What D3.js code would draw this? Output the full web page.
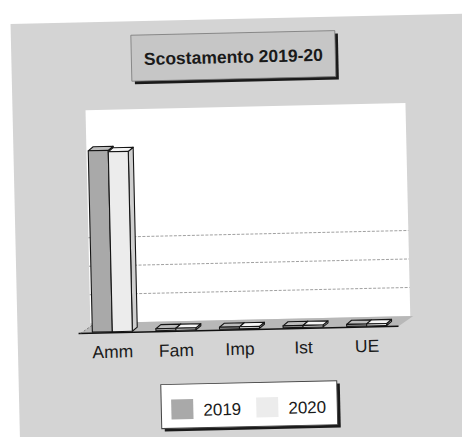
<!DOCTYPE html>
<html><head><meta charset="utf-8">
<script src="https://cdn.jsdelivr.net/npm/d3@7"></script>
<style>html,body{margin:0;padding:0;background:#fff;}svg{display:block;}</style>
</head><body>
<script>
const categories = ["Amm", "Fam", "Imp", "Ist", "UE"];
const seriesNames = ["2019", "2020"];
const values2019 = [128, 1, 1, 1, 1];
const values2020 = [127, 1, 1, 1, 1];
const gridTicks = [20, 40, 60];
const title = "Scostamento 2019-20";

const W = 462, H = 437;
const svg = d3.select("body").append("svg").attr("width", W).attr("height", H);
const g = svg.append("g").attr("transform", "rotate(-1.3,231,218)");

const font = "Arial, 'Liberation Sans', sans-serif";
// panel
g.append("rect").attr("x", 15).attr("y", 19).attr("width", 480).attr("height", 460).attr("fill", "#d4d4d4");

// title box
g.append("rect").attr("x", 138).attr("y", 36).attr("width", 204).attr("height", 46).attr("fill", "#1a1a1a");
g.append("rect").attr("x", 135).attr("y", 33).attr("width", 204).attr("height", 46).attr("fill", "#c6c6c6").attr("stroke", "#777").attr("stroke-width", 0.8);
g.append("text").attr("x", 237).attr("y", 63).attr("text-anchor", "middle").attr("font-family", font)
  .attr("font-weight", "bold").attr("font-size", 17.5).attr("fill", "#1a1a1a").text(title);

// scales
const base = 330, depthX = 15, depthY = 10;
const x0 = d3.scaleBand().domain(categories).range([78, 396]);
const x1 = d3.scaleBand().domain(seriesNames).range([0, 40]);
const y = d3.scaleLinear().domain([0, 150]).range([base, base - 150 * 1.425]);

// back wall
g.append("rect").attr("x", 88).attr("y", 107).attr("width", 320).attr("height", base - depthY - 107).attr("fill", "#ffffff");
// gridlines
g.selectAll("line.grid").data(gridTicks).enter().append("line")
  .attr("x1", 88).attr("x2", 408)
  .attr("y1", d => y(d) - depthY).attr("y2", d => y(d) - depthY)
  .attr("stroke", "#8a8a8a").attr("stroke-width", 0.8).attr("stroke-dasharray", "3,1.5");

// floor
const fx0 = x0.range()[0], fx1 = x0.range()[1];
g.append("polygon").attr("points", [[fx0, base], [fx1, base], [fx1 + depthX, base - depthY], [fx0 + depthX, base - depthY]].map(p => p.join(",")).join(" "))
  .attr("fill", "#b8b8b8");
g.append("line").attr("x1", fx0 - 2).attr("x2", fx1).attr("y1", base).attr("y2", base).attr("stroke", "#111").attr("stroke-width", 1.5);
g.append("line").attr("x1", fx0).attr("x2", fx0 + depthX).attr("y1", base).attr("y2", base - depthY).attr("stroke", "#666").attr("stroke-width", 0.8).attr("stroke-dasharray", "2,2");

// bars
const colors = { "2019": ["#a9a9a9", "#8c8c8c", "#bdbdbd"], "2020": ["#ececec", "#cfcfcf", "#f6f6f6"] };
const bdx = 5, bdy = 4, barBase = base - 1, bw = x1.bandwidth();
const barData = [];
categories.forEach((c, i) => {
  barData.push({ c, s: "2019", v: values2019[i] });
  barData.push({ c, s: "2020", v: values2020[i] });
});
const off = (x0.bandwidth() - 40) / 2;
barData.forEach(d => {
  const x = x0(d.c) + off + x1(d.s);
  const yt = Math.min(y(d.v), barBase - 2);
  const col = colors[d.s];
  const bg = g.append("g").attr("stroke", "#151515").attr("stroke-width", 1.1).attr("stroke-linejoin", "round");
  bg.append("polygon").attr("points", [[x + bw, yt], [x + bw + bdx, yt - bdy], [x + bw + bdx, barBase - bdy], [x + bw, barBase]].map(p => p.join(",")).join(" ")).attr("fill", col[1]);
  bg.append("polygon").attr("points", [[x, yt], [x + bdx, yt - bdy], [x + bw + bdx, yt - bdy], [x + bw, yt]].map(p => p.join(",")).join(" ")).attr("fill", col[2]);
  bg.append("rect").attr("x", x).attr("y", yt).attr("width", bw).attr("height", barBase - yt).attr("fill", col[0]);
});

// category labels
g.selectAll("text.cat").data(categories).enter().append("text")
  .attr("x", d => x0(d) + x0.bandwidth() / 2).attr("y", 355)
  .attr("text-anchor", "middle").attr("font-family", font).attr("font-size", 17.5).attr("fill", "#1a1a1a").text(d => d);

// legend
g.append("rect").attr("x", 160).attr("y", 386).attr("width", 176).attr("height", 44).attr("fill", "#1a1a1a");
g.append("rect").attr("x", 157).attr("y", 383).attr("width", 176).attr("height", 44).attr("fill", "#ffffff").attr("stroke", "#444").attr("stroke-width", 1);
const legX = [167, 252];
seriesNames.forEach((s, i) => {
  g.append("rect").attr("x", legX[i]).attr("y", 398).attr("width", 22).attr("height", 20).attr("fill", colors[s][0]);
  g.append("text").attr("x", legX[i] + 32).attr("y", 415).attr("font-family", font).attr("font-size", 17).attr("fill", "#1a1a1a").text(s);
});
</script>
</body></html>
